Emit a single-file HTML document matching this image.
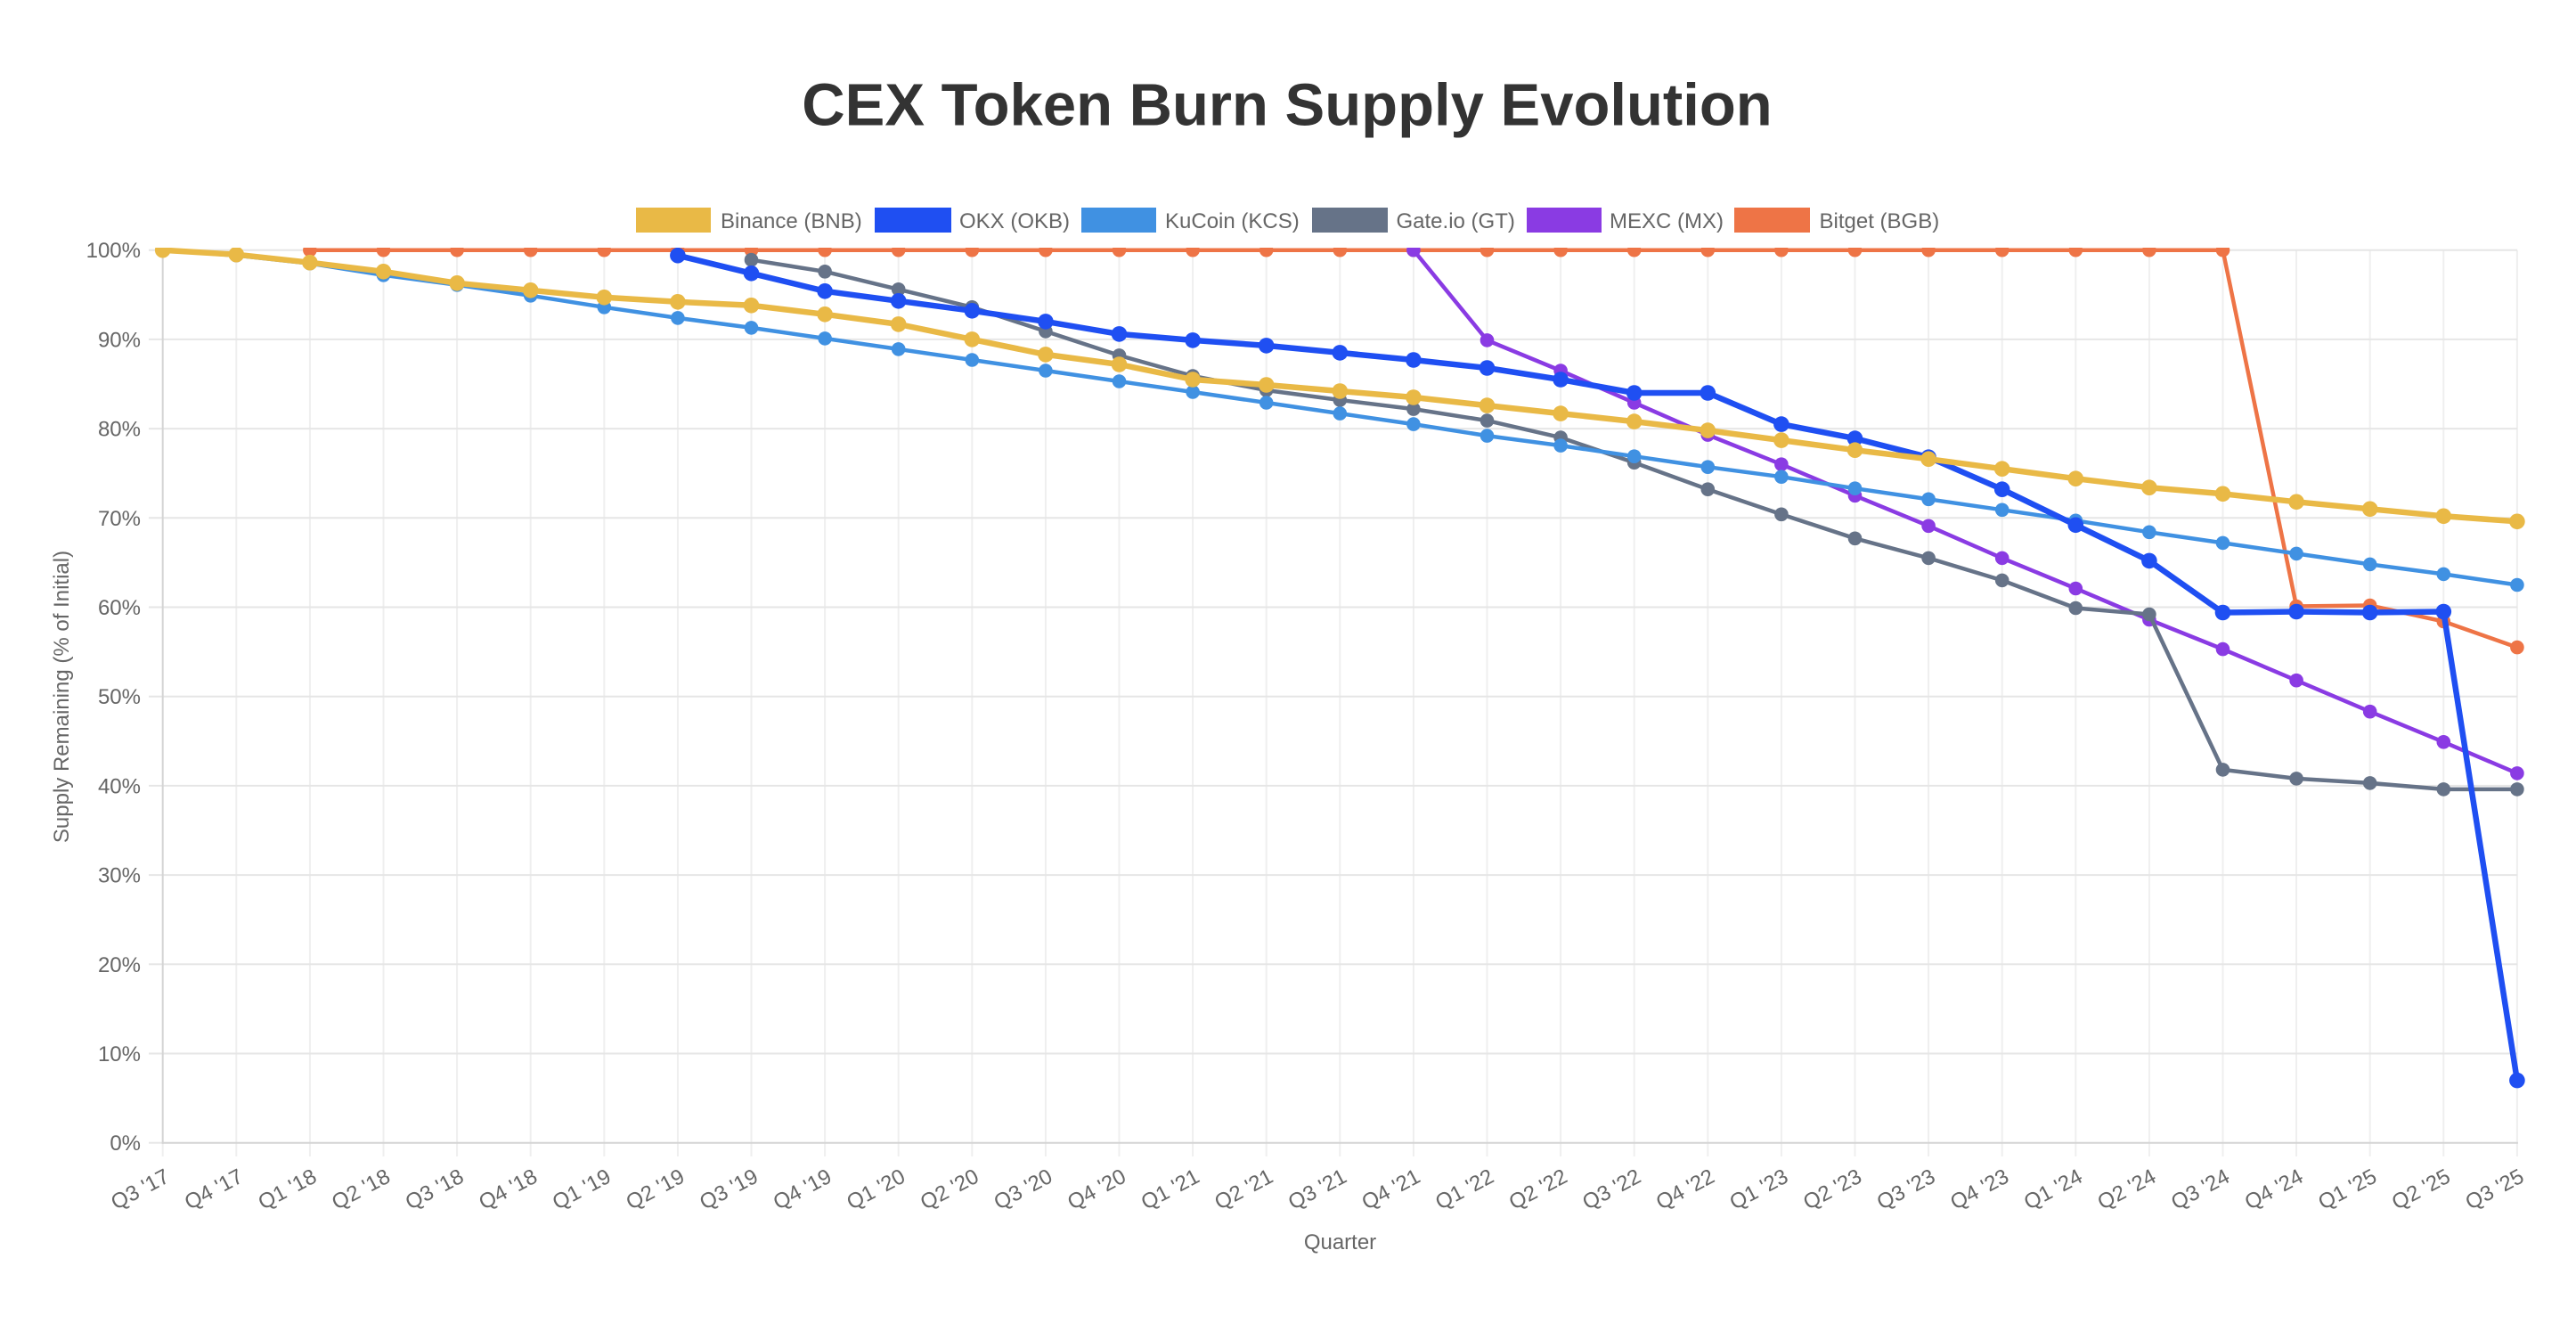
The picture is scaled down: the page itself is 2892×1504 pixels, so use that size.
<!DOCTYPE html>
<html>
<head>
<meta charset="utf-8">
<style>
html,body{margin:0;padding:0;background:#fff;}
svg{display:block;}
text{font-family:"Liberation Sans",Arial,Helvetica,sans-serif;}
</style>
</head>
<body>
<svg width="2892" height="1504" viewBox="0 0 2892 1504" xmlns="http://www.w3.org/2000/svg">
<defs>
  <clipPath id="clipArea"><rect x="0" y="278" width="2892" height="1010"/></clipPath>
  <marker id="mBNB" markerWidth="20" markerHeight="20" refX="10" refY="10" markerUnits="userSpaceOnUse"><circle cx="10" cy="10" r="8.8" fill="#e9b946"/></marker>
  <marker id="mOKX" markerWidth="20" markerHeight="20" refX="10" refY="10" markerUnits="userSpaceOnUse"><circle cx="10" cy="10" r="8.8" fill="#1f4ff2"/></marker>
  <marker id="mKCS" markerWidth="20" markerHeight="20" refX="10" refY="10" markerUnits="userSpaceOnUse"><circle cx="10" cy="10" r="7.8" fill="#4091e2"/></marker>
  <marker id="mGT" markerWidth="20" markerHeight="20" refX="10" refY="10" markerUnits="userSpaceOnUse"><circle cx="10" cy="10" r="7.8" fill="#667388"/></marker>
  <marker id="mMX" markerWidth="20" markerHeight="20" refX="10" refY="10" markerUnits="userSpaceOnUse"><circle cx="10" cy="10" r="7.8" fill="#8a3be3"/></marker>
  <marker id="mBGB" markerWidth="20" markerHeight="20" refX="10" refY="10" markerUnits="userSpaceOnUse"><circle cx="10" cy="10" r="7.8" fill="#ee7446"/></marker>
</defs>

<!-- Title -->
<text x="1445" y="140.7" text-anchor="middle" font-size="67" font-weight="bold" fill="#333">CEX Token Burn Supply Evolution</text>

<!-- Legend -->
<g font-size="24" fill="#666">
  <rect x="714" y="233" width="84" height="28" fill="#e9b946"/>
  <text x="809" y="256">Binance (BNB)</text>
  <rect x="982" y="233" width="86" height="28" fill="#1f4ff2"/>
  <text x="1077" y="256">OKX (OKB)</text>
  <rect x="1214" y="233" width="84" height="28" fill="#4091e2"/>
  <text x="1308" y="256">KuCoin (KCS)</text>
  <rect x="1473" y="233" width="85" height="28" fill="#667388"/>
  <text x="1567.5" y="256">Gate.io (GT)</text>
  <rect x="1714" y="233" width="84" height="28" fill="#8a3be3"/>
  <text x="1807" y="256">MEXC (MX)</text>
  <rect x="1947" y="233" width="85" height="28" fill="#ee7446"/>
  <text x="2042.5" y="256">Bitget (BGB)</text>
</g>

<!-- Vertical grid lines -->
<g stroke="#efefef" stroke-width="2">
  <line x1="265.3" y1="280.7" x2="265.3" y2="1298"/>
  <line x1="347.9" y1="280.7" x2="347.9" y2="1298"/>
  <line x1="430.5" y1="280.7" x2="430.5" y2="1298"/>
  <line x1="513.1" y1="280.7" x2="513.1" y2="1298"/>
  <line x1="595.7" y1="280.7" x2="595.7" y2="1298"/>
  <line x1="678.3" y1="280.7" x2="678.3" y2="1298"/>
  <line x1="760.9" y1="280.7" x2="760.9" y2="1298"/>
  <line x1="843.5" y1="280.7" x2="843.5" y2="1298"/>
  <line x1="926.1" y1="280.7" x2="926.1" y2="1298"/>
  <line x1="1008.7" y1="280.7" x2="1008.7" y2="1298"/>
  <line x1="1091.3" y1="280.7" x2="1091.3" y2="1298"/>
  <line x1="1173.9" y1="280.7" x2="1173.9" y2="1298"/>
  <line x1="1256.5" y1="280.7" x2="1256.5" y2="1298"/>
  <line x1="1339.1" y1="280.7" x2="1339.1" y2="1298"/>
  <line x1="1421.7" y1="280.7" x2="1421.7" y2="1298"/>
  <line x1="1504.3" y1="280.7" x2="1504.3" y2="1298"/>
  <line x1="1586.9" y1="280.7" x2="1586.9" y2="1298"/>
  <line x1="1669.5" y1="280.7" x2="1669.5" y2="1298"/>
  <line x1="1752.1" y1="280.7" x2="1752.1" y2="1298"/>
  <line x1="1834.7" y1="280.7" x2="1834.7" y2="1298"/>
  <line x1="1917.3" y1="280.7" x2="1917.3" y2="1298"/>
  <line x1="1999.9" y1="280.7" x2="1999.9" y2="1298"/>
  <line x1="2082.5" y1="280.7" x2="2082.5" y2="1298"/>
  <line x1="2165.1" y1="280.7" x2="2165.1" y2="1298"/>
  <line x1="2247.7" y1="280.7" x2="2247.7" y2="1298"/>
  <line x1="2330.3" y1="280.7" x2="2330.3" y2="1298"/>
  <line x1="2412.9" y1="280.7" x2="2412.9" y2="1298"/>
  <line x1="2495.5" y1="280.7" x2="2495.5" y2="1298"/>
  <line x1="2578.1" y1="280.7" x2="2578.1" y2="1298"/>
  <line x1="2660.7" y1="280.7" x2="2660.7" y2="1298"/>
  <line x1="2743.3" y1="280.7" x2="2743.3" y2="1298"/>
  <line x1="2825.9" y1="280.7" x2="2825.9" y2="1298"/>
  <line x1="182.7" y1="1282.7" x2="182.7" y2="1298"/>
</g>

<!-- Horizontal grid lines -->
<g stroke="#e6e6e6" stroke-width="2">
  <line x1="167" y1="280.7" x2="2826" y2="280.7"/>
  <line x1="167" y1="380.9" x2="2826" y2="380.9"/>
  <line x1="167" y1="481.1" x2="2826" y2="481.1"/>
  <line x1="167" y1="581.3" x2="2826" y2="581.3"/>
  <line x1="167" y1="681.5" x2="2826" y2="681.5"/>
  <line x1="167" y1="781.7" x2="2826" y2="781.7"/>
  <line x1="167" y1="881.9" x2="2826" y2="881.9"/>
  <line x1="167" y1="982.1" x2="2826" y2="982.1"/>
  <line x1="167" y1="1082.3" x2="2826" y2="1082.3"/>
  <line x1="167" y1="1182.5" x2="2826" y2="1182.5"/>
  <line x1="167" y1="1282.7" x2="182.7" y2="1282.7"/>
</g>

<!-- Axes -->
<line x1="182.7" y1="279.7" x2="182.7" y2="1283.7" stroke="#d4d4d4" stroke-width="2"/>
<line x1="181.7" y1="1282.7" x2="2826.9" y2="1282.7" stroke="#d4d4d4" stroke-width="2"/>

<!-- Y tick labels -->
<g font-size="24" fill="#666" text-anchor="end">
  <text x="158" y="289.2">100%</text>
  <text x="158" y="389.4">90%</text>
  <text x="158" y="489.6">80%</text>
  <text x="158" y="589.8">70%</text>
  <text x="158" y="690">60%</text>
  <text x="158" y="790.2">50%</text>
  <text x="158" y="890.4">40%</text>
  <text x="158" y="990.6">30%</text>
  <text x="158" y="1090.8">20%</text>
  <text x="158" y="1191">10%</text>
  <text x="158" y="1291.2">0%</text>
</g>

<!-- X tick labels -->
<g font-size="24" fill="#666" text-anchor="end">
  <text transform="translate(188,1318) rotate(-28)" dy="0.35em">Q3 '17</text>
  <text transform="translate(270.6,1318) rotate(-28)" dy="0.35em">Q4 '17</text>
  <text transform="translate(353.2,1318) rotate(-28)" dy="0.35em">Q1 '18</text>
  <text transform="translate(435.8,1318) rotate(-28)" dy="0.35em">Q2 '18</text>
  <text transform="translate(518.4,1318) rotate(-28)" dy="0.35em">Q3 '18</text>
  <text transform="translate(601,1318) rotate(-28)" dy="0.35em">Q4 '18</text>
  <text transform="translate(683.6,1318) rotate(-28)" dy="0.35em">Q1 '19</text>
  <text transform="translate(766.2,1318) rotate(-28)" dy="0.35em">Q2 '19</text>
  <text transform="translate(848.8,1318) rotate(-28)" dy="0.35em">Q3 '19</text>
  <text transform="translate(931.4,1318) rotate(-28)" dy="0.35em">Q4 '19</text>
  <text transform="translate(1014,1318) rotate(-28)" dy="0.35em">Q1 '20</text>
  <text transform="translate(1096.6,1318) rotate(-28)" dy="0.35em">Q2 '20</text>
  <text transform="translate(1179.2,1318) rotate(-28)" dy="0.35em">Q3 '20</text>
  <text transform="translate(1261.8,1318) rotate(-28)" dy="0.35em">Q4 '20</text>
  <text transform="translate(1344.4,1318) rotate(-28)" dy="0.35em">Q1 '21</text>
  <text transform="translate(1427,1318) rotate(-28)" dy="0.35em">Q2 '21</text>
  <text transform="translate(1509.6,1318) rotate(-28)" dy="0.35em">Q3 '21</text>
  <text transform="translate(1592.2,1318) rotate(-28)" dy="0.35em">Q4 '21</text>
  <text transform="translate(1674.8,1318) rotate(-28)" dy="0.35em">Q1 '22</text>
  <text transform="translate(1757.4,1318) rotate(-28)" dy="0.35em">Q2 '22</text>
  <text transform="translate(1840,1318) rotate(-28)" dy="0.35em">Q3 '22</text>
  <text transform="translate(1922.6,1318) rotate(-28)" dy="0.35em">Q4 '22</text>
  <text transform="translate(2005.2,1318) rotate(-28)" dy="0.35em">Q1 '23</text>
  <text transform="translate(2087.8,1318) rotate(-28)" dy="0.35em">Q2 '23</text>
  <text transform="translate(2170.4,1318) rotate(-28)" dy="0.35em">Q3 '23</text>
  <text transform="translate(2253,1318) rotate(-28)" dy="0.35em">Q4 '23</text>
  <text transform="translate(2335.6,1318) rotate(-28)" dy="0.35em">Q1 '24</text>
  <text transform="translate(2418.2,1318) rotate(-28)" dy="0.35em">Q2 '24</text>
  <text transform="translate(2500.8,1318) rotate(-28)" dy="0.35em">Q3 '24</text>
  <text transform="translate(2583.4,1318) rotate(-28)" dy="0.35em">Q4 '24</text>
  <text transform="translate(2666,1318) rotate(-28)" dy="0.35em">Q1 '25</text>
  <text transform="translate(2748.6,1318) rotate(-28)" dy="0.35em">Q2 '25</text>
  <text transform="translate(2831.2,1318) rotate(-28)" dy="0.35em">Q3 '25</text>
</g>

<!-- Axis titles -->
<text x="1504.5" y="1402" text-anchor="middle" font-size="24" fill="#666">Quarter</text>
<text transform="translate(77,782) rotate(-90)" text-anchor="middle" font-size="24" fill="#666">Supply Remaining (% of Initial)</text>

<!-- Data series -->
<g clip-path="url(#clipArea)" fill="none" stroke-linejoin="round" stroke-linecap="round">
  <!-- Bitget -->
  <polyline stroke="#ee7446" stroke-width="4.5" marker-start="url(#mBGB)" marker-mid="url(#mBGB)" marker-end="url(#mBGB)"
    points="347.9,280.7 430.5,280.7 513.1,280.7 595.7,280.7 678.3,280.7 760.9,280.7 843.5,280.7 926.1,280.7 1008.7,280.7 1091.3,280.7 1173.9,280.7 1256.5,280.7 1339.1,280.7 1421.7,280.7 1504.3,280.7 1586.9,280.7 1669.5,280.7 1752.1,280.7 1834.7,280.7 1917.3,280.7 1999.9,280.7 2082.5,280.7 2165.1,280.7 2247.7,280.7 2330.3,280.7 2412.9,280.7 2495.5,280.7 2578.1,680.5 2660.7,679.5 2743.3,697.5 2825.9,726.6"/>
  <!-- MEXC -->
  <polyline stroke="#8a3be3" stroke-width="4.5" marker-start="url(#mMX)" marker-mid="url(#mMX)" marker-end="url(#mMX)"
    points="1586.9,280.7 1669.5,381.9 1752.1,416.0 1834.7,452.0 1917.3,488.1 1999.9,521.2 2082.5,556.3 2165.1,590.3 2247.7,626.4 2330.3,660.5 2412.9,695.5 2495.5,728.6 2578.1,763.7 2660.7,798.7 2743.3,832.8 2825.9,867.9"/>
  <!-- Gate.io -->
  <polyline stroke="#667388" stroke-width="4.5" marker-start="url(#mGT)" marker-mid="url(#mGT)" marker-end="url(#mGT)"
    points="843.5,291.7 926.1,304.8 1008.7,324.8 1091.3,344.8 1173.9,371.9 1256.5,398.9 1339.1,422.0 1421.7,438.0 1504.3,449.0 1586.9,459.1 1669.5,472.1 1752.1,491.1 1834.7,519.2 1917.3,549.2 1999.9,577.3 2082.5,604.3 2165.1,626.4 2247.7,651.4 2330.3,682.5 2412.9,689.5 2495.5,863.9 2578.1,873.9 2660.7,878.9 2743.3,885.9 2825.9,885.9"/>
  <!-- KuCoin -->
  <polyline stroke="#4091e2" stroke-width="4.5" marker-start="url(#mKCS)" marker-mid="url(#mKCS)" marker-end="url(#mKCS)"
    points="182.7,280.7 265.3,286.7 347.9,295.7 430.5,308.8 513.1,319.8 595.7,331.8 678.3,344.8 760.9,356.9 843.5,367.9 926.1,379.9 1008.7,391.9 1091.3,404.0 1173.9,416.0 1256.5,428.0 1339.1,440.0 1421.7,452.0 1504.3,464.1 1586.9,476.1 1669.5,489.1 1752.1,500.1 1834.7,512.2 1917.3,524.2 1999.9,535.2 2082.5,548.2 2165.1,560.3 2247.7,572.3 2330.3,584.3 2412.9,597.3 2495.5,609.4 2578.1,621.4 2660.7,633.4 2743.3,644.4 2825.9,656.5"/>
  <!-- OKX -->
  <polyline stroke="#1f4ff2" stroke-width="6.5" marker-start="url(#mOKX)" marker-mid="url(#mOKX)" marker-end="url(#mOKX)"
    points="760.9,286.7 843.5,306.8 926.1,326.8 1008.7,337.8 1091.3,348.8 1173.9,360.9 1256.5,374.9 1339.1,381.9 1421.7,387.9 1504.3,395.9 1586.9,404.0 1669.5,413.0 1752.1,426.0 1834.7,441.0 1917.3,441.0 1999.9,476.1 2082.5,492.1 2165.1,513.2 2247.7,549.2 2330.3,589.3 2412.9,629.4 2495.5,687.5 2578.1,686.5 2660.7,687.5 2743.3,686.5 2825.9,1212.6"/>
  <!-- Binance -->
  <polyline stroke="#e9b946" stroke-width="6.5" marker-start="url(#mBNB)" marker-mid="url(#mBNB)" marker-end="url(#mBNB)"
    points="182.7,280.7 265.3,285.7 347.9,294.7 430.5,304.8 513.1,317.8 595.7,325.8 678.3,333.8 760.9,338.8 843.5,342.8 926.1,352.8 1008.7,363.9 1091.3,380.9 1173.9,397.9 1256.5,409.0 1339.1,426.0 1421.7,432.0 1504.3,439.0 1586.9,446.0 1669.5,455.1 1752.1,464.1 1834.7,473.1 1917.3,483.1 1999.9,494.1 2082.5,505.2 2165.1,515.2 2247.7,526.2 2330.3,537.2 2412.9,547.2 2495.5,554.3 2578.1,563.3 2660.7,571.3 2743.3,579.3 2825.9,585.3"/>
</g>
</svg>
</body>
</html>
